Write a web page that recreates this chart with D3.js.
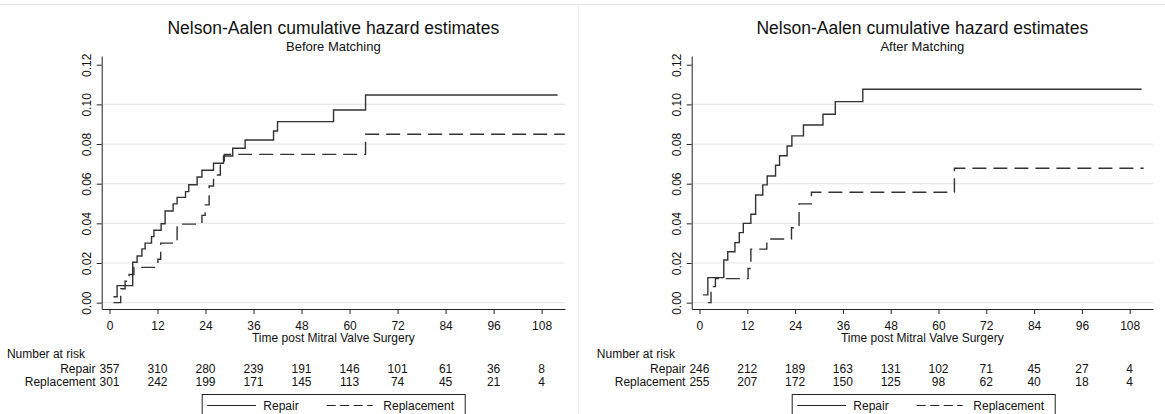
<!DOCTYPE html>
<html>
<head>
<meta charset="utf-8">
<script src="https://cdn.jsdelivr.net/npm/d3@7"></script>
<style>
  body { margin: 0; background: #fff; }
  svg { display: block; font-family: 'Liberation Sans', Arial, sans-serif; }
</style>
</head>
<body>
<div id="chart"></div>
<script>
(function () {

  // tick values
  const months = [0, 12, 24, 36, 48, 60, 72, 84, 96, 108]
  const hazardTicks = [0, 0.02, 0.04, 0.06, 0.08, 0.10, 0.12]
  const groups = ['Repair', 'Replacement']

  // number at risk, one value per month tick
  const beforeRepairRisk = [357, 310, 280, 239, 191, 146, 101, 61, 36, 8]
  const beforeReplRisk = [301, 242, 199, 171, 145, 113, 74, 45, 21, 4]
  const afterRepairRisk = [246, 212, 189, 163, 131, 102, 71, 45, 27, 4]
  const afterReplRisk = [255, 207, 172, 150, 125, 98, 62, 40, 18, 4]

  // step curves: [month, cumulative hazard], value holds until next point
  const beforeRepair = [
    [1, 0.003], [1.9, 0.0086], [5.8, 0.0204], [6.9, 0.0235], [8.1, 0.0271], [8.9, 0.030],
    [10.5, 0.0333], [11.1, 0.0365], [12.9, 0.0398], [13.9, 0.0462], [15.9, 0.0498],
    [16.9, 0.0531], [19, 0.056], [19.8, 0.0595], [21.9, 0.0634], [23.1, 0.0668],
    [26, 0.0703], [28.5, 0.074], [30.8, 0.0779], [33.9, 0.082], [41, 0.0866],
    [42, 0.0913], [56, 0.0972], [64, 0.1047], [112, 0.1047]
  ]
  const beforeRepl = [
    [1, 0], [2.8, 0.007], [3.9, 0.0108], [4.9, 0.0142], [6.1, 0.0178], [12.1, 0.0219],
    [12.8, 0.030], [16.9, 0.0396], [23.1, 0.044], [23.9, 0.0493], [24.9, 0.0588],
    [26, 0.0644], [27.7, 0.0697], [28.7, 0.0748], [64, 0.0849], [113.8, 0.0849]
  ]
  const afterRepair = [
    [0.9, 0.0039], [2.1, 0.0126], [6.1, 0.0215], [7.1, 0.0257], [8.9, 0.0303],
    [10, 0.0353], [11, 0.040], [12.9, 0.0446], [14.1, 0.0543], [15.9, 0.0594],
    [17, 0.0639], [19.1, 0.0693], [20.1, 0.0741], [22, 0.079], [23.2, 0.0841],
    [26.1, 0.0896], [31, 0.095], [34.1, 0.1014], [41, 0.1076], [111, 0.1076]
  ]
  const afterRepl = [
    [2.1, 0], [2.9, 0.0081], [4, 0.0121], [12.2, 0.0172], [12.9, 0.027], [16.9, 0.0321],
    [23.1, 0.0378], [25, 0.0498], [28.1, 0.0557], [64, 0.0678], [111.5, 0.0678]
  ]

  const width = 1165
  const height = 414

  const svg = d3.select('#chart').append('svg')
    .attr('width', width)
    .attr('height', height)

  // faint frame of the two graph windows
  svg.append('line')
    .attr('x1', 0).attr('x2', width)
    .attr('y1', 4.5).attr('y2', 4.5)
    .attr('stroke', '#e6e6e6')
  svg.append('line')
    .attr('x1', 578.5).attr('x2', 578.5)
    .attr('y1', 4.5).attr('y2', height)
    .attr('stroke', '#ececec')

  const panels = [
    { left: 101.7, right: 565, subtitle: 'Before Matching', curves: [beforeRepair, beforeRepl], risk: [beforeRepairRisk, beforeReplRisk] },
    { left: 691.7, right: 1153, subtitle: 'After Matching', curves: [afterRepair, afterRepl], risk: [afterRepairRisk, afterReplRisk] }
  ]

  const lineColor = '#333'

  panels.forEach(drawPanel)

  function drawPanel (p) {
    const xPositionScale = d3.scaleLinear()
      .domain([-1.95, 113.85])
      .range([p.left, p.right])

    const yPositionScale = d3.scaleLinear()
      .domain([-0.0032, 0.1244])
      .range([309, 56])

    const g = svg.append('g')
    const mid = (p.left + p.right) / 2

    // gridlines
    g.selectAll('.grid')
      .data(hazardTicks.filter(d => d < 0.11))
      .join('line')
      .attr('class', 'grid')
      .attr('x1', p.left)
      .attr('x2', p.right)
      .attr('y1', d => yPositionScale(d))
      .attr('y2', d => yPositionScale(d))
      .attr('stroke', '#e8e8e8')
      .attr('stroke-width', 1.2)

    // titles
    g.append('text')
      .attr('x', mid)
      .attr('y', 33.5)
      .attr('text-anchor', 'middle')
      .attr('font-size', 17.5)
      .attr('fill', '#111')
      .text('Nelson-Aalen cumulative hazard estimates')

    g.append('text')
      .attr('x', mid)
      .attr('y', 51)
      .attr('text-anchor', 'middle')
      .attr('font-size', 13)
      .attr('fill', '#111')
      .text(p.subtitle)

    // y axis
    const yAxis = d3.axisLeft(yPositionScale)
      .tickValues(hazardTicks)
      .tickFormat(d3.format('.2f'))
      .tickSize(5)
      .tickSizeOuter(0)
    const yg = g.append('g')
      .attr('class', 'axis y-axis')
      .attr('transform', 'translate(' + p.left + ',0)')
      .call(yAxis)
    yg.selectAll('text')
      .attr('transform', 'rotate(-90)')
      .attr('x', 0)
      .attr('y', -10.5)
      .attr('dy', 0)
      .attr('text-anchor', 'middle')
      .attr('font-size', 12)
      .attr('font-family', 'Liberation Sans, Arial, sans-serif')
      .attr('fill', '#111')

    // x axis
    const xAxis = d3.axisBottom(xPositionScale)
      .tickValues(months)
      .tickSize(5)
      .tickPadding(7)
      .tickSizeOuter(0)
    const xg = g.append('g')
      .attr('class', 'axis x-axis')
      .attr('transform', 'translate(0,309)')
      .call(xAxis)
    xg.selectAll('text')
      .attr('font-size', 12)
      .attr('font-family', 'Liberation Sans, Arial, sans-serif')
      .attr('fill', '#111')
    g.selectAll('.axis path, .axis line').attr('stroke', '#222')

    g.append('text')
      .attr('x', mid)
      .attr('y', 342)
      .attr('text-anchor', 'middle')
      .attr('font-size', 12)
      .attr('fill', '#111')
      .text('Time post Mitral Valve Surgery')

    // curves
    const line = d3.line()
      .x(d => xPositionScale(d[0]))
      .y(d => yPositionScale(d[1]))
      .curve(d3.curveStepAfter)

    g.selectAll('.curve')
      .data(p.curves)
      .join('path')
      .attr('class', 'curve')
      .attr('d', line)
      .attr('fill', 'none')
      .attr('stroke', lineColor)
      .attr('stroke-width', 1.4)
      .attr('stroke-dasharray', (d, i) => i === 1 ? '14,7' : null)

    // number at risk table
    const x0 = xPositionScale(0)
    g.append('text')
      .attr('x', x0 - 102.6)
      .attr('y', 357.5)
      .attr('font-size', 12)
      .attr('fill', '#111')
      .text('Number at risk')

    const rowY = [372.5, 386]
    groups.forEach((name, gi) => {
      g.append('text')
        .attr('x', x0 - 14)
        .attr('y', rowY[gi])
        .attr('text-anchor', 'end')
        .attr('font-size', 12)
        .attr('fill', '#111')
        .text(name)

      g.selectAll('.risk-' + gi)
        .data(p.risk[gi])
        .join('text')
        .attr('class', 'risk-' + gi)
        .attr('x', (d, i) => xPositionScale(months[i]))
        .attr('y', rowY[gi])
        .attr('text-anchor', 'middle')
        .attr('font-size', 12)
        .attr('fill', '#111')
        .text(d => d)
    })

    // legend
    const legend = g.append('g')
      .attr('transform', 'translate(' + (p.left + 100) + ',394)')

    legend.append('rect')
      .attr('x', 0.5)
      .attr('y', 0.5)
      .attr('width', 263)
      .attr('height', 40)
      .attr('fill', 'none')
      .attr('stroke', '#222')

    legend.selectAll('.key')
      .data(groups)
      .join('line')
      .attr('class', 'key')
      .attr('x1', (d, i) => i === 0 ? 5.6 : 125)
      .attr('x2', (d, i) => i === 0 ? 54.3 : 171)
      .attr('y1', 11.5)
      .attr('y2', 11.5)
      .attr('stroke', '#222')
      .attr('stroke-width', 1)
      .attr('stroke-dasharray', (d, i) => i === 1 ? '9,4.5' : null)

    legend.selectAll('.key-label')
      .data(groups)
      .join('text')
      .attr('class', 'key-label')
      .attr('x', (d, i) => i === 0 ? 61.6 : 181.6)
      .attr('y', 15.5)
      .attr('font-size', 12)
      .attr('fill', '#111')
      .text(d => d)
  }

})();
</script>
</body>
</html>
